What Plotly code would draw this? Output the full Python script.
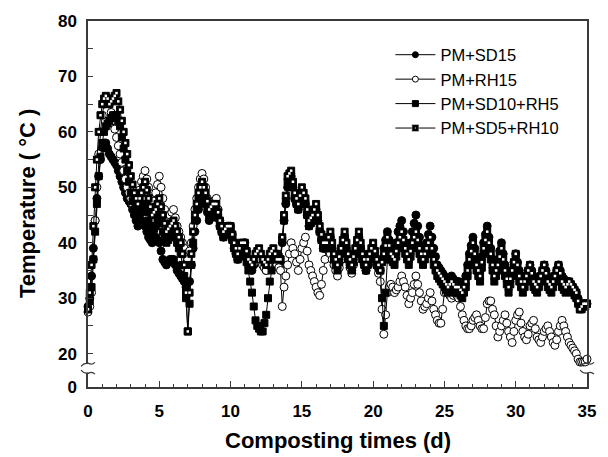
import plotly.graph_objects as go

# ---------------- data (0.125-day steps, one row per day) ----------------
days = [i * 0.125 for i in range(281)]

pm_sd15 = [
    28.5, 30, 34, 39, 44, 48, 52, 55,
    57, 58, 58, 57, 56, 55.5, 55, 54.5,
    54, 53, 52, 51, 50, 49, 48, 47.5,
    47, 46, 45, 44, 43, 43.5, 44, 43.5,
    43, 42, 41, 40.5, 40, 40.5, 41, 40.5,
    40, 38.5, 37, 36.5, 36, 36.5, 37, 37,
    37, 36, 35, 34.5, 34, 33.5, 33, 32,
    31, 33, 36, 39, 42, 44, 46, 47,
    48, 47.5, 47, 45.5, 44, 44.5, 45, 45.5,
    46, 44.5, 43, 42, 41, 41.5, 42, 42,
    42, 40.5, 39, 38, 37, 38, 39, 39,
    39, 37.5, 36, 35.5, 35, 36, 37, 37.5,
    38, 37, 36, 35.5, 35, 36, 37, 37.5,
    38, 37, 36, 36, 36, 40, 44, 47,
    50, 51, 52, 50, 48, 47, 46, 47.5,
    49, 48, 47, 45, 43, 43.5, 44, 45,
    46, 44, 42, 40.5, 39, 39, 39, 40,
    41, 39, 37, 36, 35, 36.5, 38, 39.5,
    41, 39, 37, 36, 35, 36.5, 38, 39.5,
    41, 39, 37, 36, 35, 36, 37, 38,
    39, 37.5, 36, 35.5, 35, 37, 39, 40.5,
    42, 40.5, 39, 38.5, 38, 40, 42, 43,
    44, 42, 40, 39, 38, 40, 42, 43.5,
    45, 43, 41, 39.5, 38, 39, 40, 41.5,
    43, 41, 39, 37.5, 36, 35.5, 35, 34.5,
    34, 33.5, 33, 33.5, 34, 33.5, 33, 33,
    33, 32.5, 32, 33, 34, 36, 38, 39.5,
    41, 39, 37, 36, 35, 37.5, 40, 41.5,
    43, 41, 39, 37, 35, 36, 37, 38.5,
    40, 38, 36, 34.5, 33, 34, 35, 36.5,
    38, 36.5, 35, 34, 33, 33.5, 34, 35,
    36, 35, 34, 33.5, 33, 33.5, 34, 35,
    36, 35, 34, 33.5, 33, 33.5, 34, 35,
    36, 35, 34, 33.5, 33, 33, 33, 32.5,
    32, 31.5, 31, 30, 29, 29, 29, 29,
    29,
]

pm_rh15 = [
    27.5, 28.5, 31, 37, 44, 50, 56, 60,
    63, 65, 66, 66, 65, 63.5, 62, 60.5,
    59, 57.5, 56, 54.5, 53, 51.5, 50, 49,
    48, 47, 46, 47, 48, 49.5, 51, 52,
    53, 51.5, 50, 48, 46, 47.5, 49, 50.5,
    52, 50, 48, 46, 44, 44.5, 45, 45.5,
    46, 44.5, 43, 42, 41, 40, 39, 38,
    37, 38.5, 40, 43, 46, 48, 50, 51.5,
    52.5, 51.5, 50, 48, 46, 46.5, 47, 47.5,
    48, 46, 44, 43, 42, 42.5, 43, 43,
    43, 41.5, 40, 39, 38, 38.5, 39, 39.5,
    40, 38.5, 37, 36.5, 36, 36.5, 37, 37.5,
    38, 37, 36, 35.5, 35, 36, 37, 37.5,
    38, 37, 36, 35.5, 35, 28.5, 32, 34,
    36, 38, 40, 39, 38, 36.5, 35, 37,
    39, 40, 41, 38.5, 36, 35, 34, 33,
    32, 31, 30.5, 32.5, 35, 37, 39, 38.5,
    38, 37, 36, 35, 34, 35.5, 37, 38.5,
    40, 38.5, 37, 35.5, 34.5, 36, 37, 38.5,
    40, 38.5, 37, 36, 35, 36, 37, 38,
    39, 37.5, 36, 34.5, 33, 28, 23.5, 27,
    31, 32, 32.5, 32, 31, 31.5, 32, 33,
    34, 33, 32, 30.5, 29, 30, 31, 32.5,
    34, 32.5, 31, 29.5, 28, 28.5, 29, 30,
    31, 29.5, 28, 27, 26, 25.5, 25.5, 28,
    31, 31, 31, 30.5, 30, 30.5, 31, 30.5,
    30, 28.5, 27, 26, 25, 24.5, 24.5, 25,
    26, 26.5, 27, 26, 25, 24.5, 24.5, 26.5,
    29, 29.5, 29.5, 28, 27, 25, 23, 24,
    25, 26, 27, 25.5, 24, 23, 22, 24,
    26, 27, 27.5, 25.5, 24, 23, 22.5, 23.5,
    25, 25.5, 26, 24.5, 23, 22.5, 22, 23,
    24, 24.5, 25, 24, 23, 22, 21.5, 22.5,
    24, 25, 26, 25, 24, 23, 22, 21.5,
    21, 20.5, 20, 19, 18.5, 18.5, 18.5, 18.5,
    19,
]

pm_sd10_rh5 = [
    28, 29.5, 32, 37, 42, 47, 52, 55.5,
    58, 60, 61, 61.5, 62, 62.5, 63, 63,
    63, 62, 61, 59, 57, 55, 53, 51,
    49, 47.5, 46, 45, 44, 45, 46, 46.5,
    47, 45.5, 44, 43, 42, 42.5, 43, 44,
    45, 43.5, 42, 41, 40, 40.5, 41, 41.5,
    42, 41, 40, 39, 38, 36, 34, 30,
    24, 29, 36, 40, 44, 46, 48, 49,
    50, 49, 48, 46.5, 45, 45.5, 46, 46,
    46, 44.5, 43, 42, 41, 41.5, 42, 42,
    42, 40.5, 39, 38, 37, 37.5, 38, 38,
    38, 36.5, 35, 33, 31, 28.5, 26, 25,
    24.5, 24, 24, 25.5, 27, 30, 33, 35,
    37, 37.5, 38, 37.5, 37, 40.5, 44, 47.5,
    51, 51.5, 52, 50, 48, 47, 46, 47.5,
    49, 48, 47, 45, 43, 43.5, 44, 45,
    46, 44, 42, 40.5, 39, 39, 39, 40,
    41, 39, 37, 36, 35, 36.5, 38, 39.5,
    41, 39, 37, 36, 35, 36.5, 38, 39.5,
    41, 39, 37, 36, 35, 36, 37, 38,
    39, 37.5, 36, 35.5, 35, 30, 25, 31,
    37, 37, 37, 36.5, 36, 37.5, 39, 40,
    41, 39.5, 38, 37, 36, 37.5, 39, 40,
    41, 39.5, 38, 37, 36, 37, 38, 39,
    40, 38, 36, 35, 34, 33.5, 33, 32.5,
    32, 31.5, 31, 31.5, 32, 31.5, 31, 31,
    31, 30.5, 30, 31, 32, 34, 36, 37.5,
    39, 37, 35, 34, 33, 35.5, 38, 39.5,
    41, 39, 37, 35, 33, 34, 35, 36.5,
    38, 36, 34, 32.5, 31, 32.5, 34, 35.5,
    37, 35, 33, 32, 31, 32, 33, 34,
    35, 33.5, 32, 31.5, 31, 32, 33, 34,
    35, 33.5, 32, 31.5, 31, 32, 33, 34,
    35, 33.5, 32, 31.5, 31, 31.5, 32, 31.5,
    31, 30.5, 30, 29, 28, 28, 28.5, 28.5,
    29,
]

pm_sd5_rh10 = [
    28, 31, 36, 43, 50, 55, 60, 63,
    65, 66, 66.5, 66, 65, 65.5, 66, 66.5,
    67, 65.5, 64, 62, 60, 58, 56, 54,
    52, 50.5, 49, 48, 47, 48, 49, 50,
    51, 49.5, 48, 46.5, 45, 45.5, 46, 47,
    48, 46.5, 45, 43.5, 42, 42.5, 43, 43.5,
    44, 43, 42, 41, 40, 38, 36, 31,
    24, 31, 38, 42, 45, 47, 49, 50,
    51, 50, 49, 47.5, 46, 46.5, 47, 47,
    47, 45.5, 44, 43, 42, 42.5, 43, 43,
    43, 41.5, 40, 39, 38, 39, 40, 40,
    40, 38.5, 37, 36.5, 36, 37, 38, 38.5,
    39, 38, 37, 36.5, 36, 37, 38, 38.5,
    39, 38, 37, 37, 37, 41, 45, 48.5,
    52, 52.5, 53, 51, 49, 48, 47, 48.5,
    50, 49, 48, 46, 44, 44.5, 45, 46,
    47, 45, 43, 41.5, 40, 40, 40, 41,
    42, 40, 38, 37, 36, 37.5, 39, 40.5,
    42, 40, 38, 37, 36, 37.5, 39, 40.5,
    42, 40, 38, 37, 36, 37, 38, 39,
    40, 38.5, 37, 36, 35, 36.5, 38, 39.5,
    41, 39.5, 38, 37.5, 37, 38.5, 40, 41,
    42, 40.5, 39, 38, 37, 38.5, 40, 41,
    42, 40.5, 39, 38, 37, 38, 39, 40,
    41, 39, 37, 36, 35, 34.5, 34, 33.5,
    33, 32.5, 32, 32.5, 33, 32.5, 32, 32,
    32, 31.5, 31, 32, 33, 35, 37, 38.5,
    40, 38, 36, 35, 34, 36.5, 39, 40.5,
    42, 40, 38, 36, 34, 35, 36, 37.5,
    39, 37, 35, 33.5, 32, 33.5, 35, 36.5,
    38, 36, 34, 33, 32, 33, 34, 35,
    36, 34.5, 33, 32.5, 32, 33, 34, 35,
    36, 34.5, 33, 32.5, 32, 33, 34, 35,
    36, 34.5, 33, 32.5, 32, 32.5, 33, 32.5,
    32, 31.5, 31, 29.5, 28, 28.5, 29, 29,
    29,
]

series_names = ["PM+SD15", "PM+RH15", "PM+SD10+RH5", "PM+SD5+RH10"]
x_ticks = [0, 5, 10, 15, 20, 25, 30, 35]
y_ticks_top = [20, 30, 40, 50, 60, 70, 80]
y_ticks_bottom = [0]

# ---------------- figure ----------------
FONT = "Liberation Sans, Arial, sans-serif"
AX = "#3a3a3a"

values = [pm_sd15, pm_rh15, pm_sd10_rh5, pm_sd5_rh10]
plot_markers = [
    dict(symbol="circle", size=8, color="black", line=dict(color="black", width=1)),
    dict(symbol="circle", size=8, color="white", line=dict(color="black", width=1)),
    dict(symbol="square", size=7, color="black", line=dict(color="black", width=1)),
    dict(symbol="square", size=7, color="black", line=dict(color="black", width=1)),
]
legend_markers = [
    dict(symbol="circle", size=6, color="black", line=dict(color="black", width=1)),
    dict(symbol="circle", size=6, color="white", line=dict(color="black", width=1)),
    dict(symbol="square", size=6, color="black", line=dict(color="black", width=1)),
    dict(symbol="square-dot", size=7, color="black", line=dict(color="#dddddd", width=0.6)),
]

fig = go.Figure()
for i, (name, vals, mk) in enumerate(zip(series_names, values, plot_markers)):
    fig.add_trace(go.Scatter(
        x=days, y=vals, name=name, mode="lines+markers",
        line=dict(color="black", width=1), marker=mk,
        cliponaxis=False, showlegend=False, hoverinfo="skip",
        xaxis="x", yaxis="y",
    ))
    if i == 3:
        # white centre dot of the dotted-square markers
        fig.add_trace(go.Scatter(
            x=days, y=vals, mode="markers",
            marker=dict(symbol="square", size=2.5, color="white", line=dict(width=0)),
            cliponaxis=False, showlegend=False, hoverinfo="skip",
            xaxis="x", yaxis="y",
        ))

# legend entries
for name, mk in zip(series_names, legend_markers):
    fig.add_trace(go.Scatter(
        x=[None], y=[None], name=name, mode="lines+markers",
        line=dict(color="black", width=1), marker=mk,
        xaxis="x", yaxis="y",
    ))

# plot area in pixels: left 88, right 590, top 16, bottom 387
L, R, T, B = 88, 590, 16, 387
W, H = R - L, B - T


def py2paper(py):
    return (B - py) / H


def px2paper(px):
    return (px - L) / W


top_lo = py2paper(363)
bot_hi = py2paper(373)

tickfont = dict(family=FONT, size=17, color="black", weight="bold")

fig.update_layout(
    width=608, height=457,
    margin=dict(l=L, r=608 - R, t=T, b=457 - B),
    paper_bgcolor="white", plot_bgcolor="white",
    showlegend=True,
    legend=dict(x=0.606, y=0.955, xanchor="left", yanchor="top",
                font=dict(family=FONT, size=16.5, color="black"),
                bgcolor="rgba(0,0,0,0)", itemwidth=40, tracegroupgap=0),
    xaxis=dict(domain=[0, 1], range=[0, 35], anchor="y", side="top",
               showline=True, linecolor=AX, linewidth=1.5,
               showticklabels=False, ticks="", showgrid=False, zeroline=False),
    yaxis=dict(domain=[top_lo, 1], range=[18.25, 80], anchor="x",
               tickvals=y_ticks_top, ticks="inside", ticklen=5, tickcolor=AX, tickwidth=1.2,
               minor=dict(dtick=5, tick0=0, ticks="inside", ticklen=5, tickcolor=AX, tickwidth=1.2),
               showline=True, mirror=True, linecolor=AX, linewidth=1.5,
               tickfont=tickfont, ticklabelstandoff=6,
               showgrid=False, zeroline=False),
    xaxis2=dict(domain=[0, 1], range=[0, 35], anchor="y2",
                tickvals=x_ticks, ticks="inside", ticklen=6, tickcolor=AX, tickwidth=1.2,
                minor=dict(dtick=1, tick0=0, ticks="inside", ticklen=3, tickcolor=AX, tickwidth=1.2),
                showline=True, linecolor=AX, linewidth=1.5,
                tickfont=tickfont, ticklabelstandoff=8,
                showgrid=False, zeroline=False),
    yaxis2=dict(domain=[0, bot_hi], range=[0, 2.5], anchor="x2",
                tickvals=y_ticks_bottom, ticks="", showline=True, mirror=True,
                linecolor=AX, linewidth=1.5, tickfont=tickfont, ticklabelstandoff=6,
                showgrid=False, zeroline=False),
)

# invisible trace so the bottom axes render
fig.add_trace(go.Scatter(x=[None], y=[None], xaxis="x2", yaxis="y2",
                         showlegend=False, hoverinfo="skip"))

# axis titles
fig.add_annotation(text="<b>Temperature ( °C )</b>", xref="paper", yref="paper",
                   x=0, y=0.5, xshift=-61, textangle=-90, showarrow=False,
                   font=dict(family=FONT, size=22, color="black"),
                   xanchor="center", yanchor="middle")
fig.add_annotation(text="<b>Composting times (d)</b>", xref="paper", yref="paper",
                   x=0.5, y=0, yshift=-53, showarrow=False,
                   font=dict(family=FONT, size=22, color="black"),
                   xanchor="center", yanchor="middle")

# axis-break squiggles on left and right axes
for axx in (L, R):
    for yy, d in ((363, 1), (373, -1)):
        x0, x1, x2, x3 = axx - 7, axx - 3, axx + 3, axx + 7
        path = (f"M {px2paper(x0)},{py2paper(yy + 3 * d)} "
                f"C {px2paper(x1)},{py2paper(yy - 2 * d)} {px2paper(axx)},{py2paper(yy + 1 * d)} {px2paper(axx)},{py2paper(yy)} "
                f"C {px2paper(axx)},{py2paper(yy - 1 * d)} {px2paper(x2)},{py2paper(yy + 3 * d)} {px2paper(x3)},{py2paper(yy - 1 * d)}")
        fig.add_shape(type="path", path=path, xref="paper", yref="paper",
                      line=dict(color=AX, width=1.2))

fig.write_html("out.html", config={"displayModeBar": False},
               post_script="document.body.style.margin='0px';")
